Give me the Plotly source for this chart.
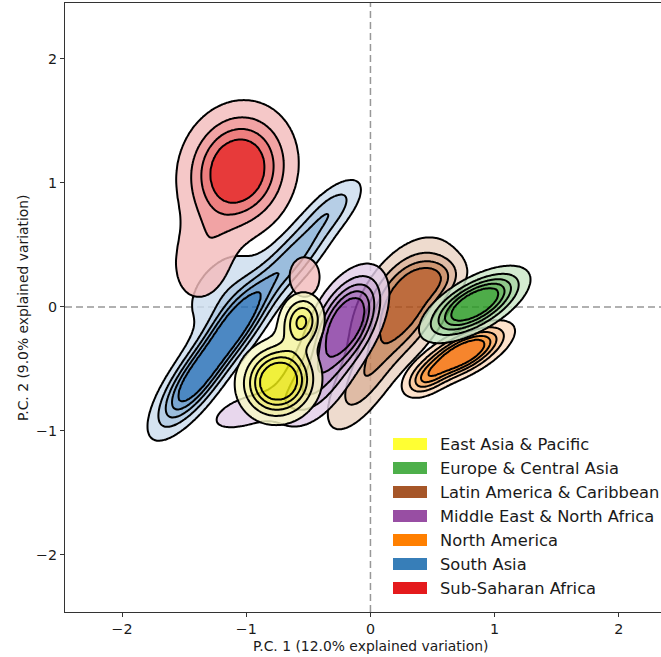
import numpy as np
import plotly.graph_objects as go

# ---------------- data ----------------
REGIONS = ["East Asia & Pacific", "Europe & Central Asia", "Latin America & Caribbean",
           "Middle East & North Africa", "North America", "South Asia", "Sub-Saharan Africa"]
LEGEND_COLORS = ["#ffff33", "#4daf4a", "#a65628", "#984ea3", "#ff7f00", "#377eb8", "#e41a1c"]

X_TITLE = "P.C. 1 (12.0% explained variation)"
Y_TITLE = "P.C. 2 (9.0% explained variation)"
TICKS = [-2, -1, 0, 1, 2]

# density components: (cx, cy, s_major, s_minor, angle_deg, amplitude)
SSA_COMPONENTS = [(-1.07, 1.10, 0.28, 0.235, 72, 1.0), (-1.35, 0.38, 0.25, 0.17, 78, 0.25),
                  (-0.53, 0.24, 0.145, 0.11, 90, 0.22)]
SAS_COMPONENTS = [(-1.42, -0.60, 0.28, 0.10, 54, 1.0), (-1.08, -0.14, 0.28, 0.10, 54, 1.0),
                  (-0.62, 0.40, 0.30, 0.10, 50, 0.55), (-0.30, 0.80, 0.20, 0.09, 45, 0.30),
                  (-1.20, 0.15, 0.28, 0.16, 50, 0.22)]
NAM_COMPONENTS = [(0.74, -0.38, 0.22, 0.085, 28, 1.0), (0.45, -0.58, 0.12, 0.07, 35, 0.35)]
MNA_COMPONENTS = [(-0.19, -0.12, 0.24, 0.13, 62, 1.0), (-0.45, -0.60, 0.25, 0.14, 55, 0.40),
                  (-1.00, -0.84, 0.24, 0.10, 20, 0.18)]
LAC_COMPONENTS = [(0.27, 0.02, 0.30, 0.17, 58, 1.0), (0.50, 0.22, 0.16, 0.10, 20, 0.40),
                  (-0.05, -0.58, 0.30, 0.12, 58, 0.45)]
ECA_COMPONENTS = [(0.84, 0.02, 0.235, 0.10, 30, 1.0)]
EAP_COMPONENTS = [(-0.74, -0.60, 0.17, 0.16, 45, 1.0), (-0.555, -0.12, 0.13, 0.10, 80, 0.55)]

# contour levels as fractions of each region's peak density
SSA_LEVELS = [0.12, 0.30, 0.48, 0.66]
SAS_LEVELS = [0.10, 0.24, 0.38, 0.52, 0.66]
NAM_LEVELS = [0.10, 0.24, 0.38, 0.52, 0.66]
MNA_LEVELS = [0.10, 0.24, 0.38, 0.52, 0.66]
LAC_LEVELS = [0.12, 0.30, 0.48, 0.66]
ECA_LEVELS = [0.10, 0.24, 0.38, 0.52, 0.66]
EAP_LEVELS = [0.10, 0.24, 0.38, 0.52, 0.66]

# band colours as seen over white (light -> dark)
SSA_BANDS = ['#f6c9c9', '#f2a4a5', '#ee7f80', '#e73a3b']
SAS_BANDS = ['#d6e4f1', '#b7cfe6', '#9cbddd', '#79a6d2', '#4c88c4']
NAM_BANDS = ['#fde2cc', '#fccda3', '#fbb677', '#fa9e4a', '#f7861f']
MNA_BANDS = ['#e8d8ee', '#d7bde2', '#c39fd3', '#b07fc2', '#9d5db3']
LAC_BANDS = ['#efdccf', '#e0bca6', '#cf9673', '#bd6c3e']
ECA_BANDS = ['#d4ebd2', '#b2dbae', '#90ca8b', '#70bb6a', '#4fad4a']
EAP_BANDS = ['#fafad2', '#f7f7b0', '#f5f58a', '#f3f367', '#f0f03c']

# drawing order: bottom to top
DRAW = [(SAS_COMPONENTS, SAS_LEVELS, SAS_BANDS),
        (SSA_COMPONENTS, SSA_LEVELS, SSA_BANDS),
        (LAC_COMPONENTS, LAC_LEVELS, LAC_BANDS),
        (NAM_COMPONENTS, NAM_LEVELS, NAM_BANDS),
        (ECA_COMPONENTS, ECA_LEVELS, ECA_BANDS),
        (MNA_COMPONENTS, MNA_LEVELS, MNA_BANDS),
        (EAP_COMPONENTS, EAP_LEVELS, EAP_BANDS)]

X_RANGE = [-2.46, 2.34]
Y_RANGE = [-2.46, 2.45]
ALPHA = 0.82

# ---------------- helpers ----------------
xs = np.linspace(X_RANGE[0], X_RANGE[1], 361)
ys = np.linspace(Y_RANGE[0], Y_RANGE[1], 361)
XX, YY = np.meshgrid(xs, ys)


def density(comps):
    z = np.zeros_like(XX)
    for cx, cy, sa, sb, ang, amp in comps:
        t = np.radians(ang)
        dx, dy = XX - cx, YY - cy
        u = dx * np.cos(t) + dy * np.sin(t)
        v = -dx * np.sin(t) + dy * np.cos(t)
        z += amp * np.exp(-0.5 * ((u / sa) ** 2 + (v / sb) ** 2))
    return z / z.max()


def premult(h, a):
    # colour that gives h when drawn over white at opacity a
    r, g, b = int(h[1:3], 16), int(h[3:5], 16), int(h[5:7], 16)
    f = lambda c: int(np.clip(round((c - (1 - a) * 255) / a), 0, 255))
    return f"rgb({f(r)},{f(g)},{f(b)})"


def colorscale(bands):
    n = len(bands)
    cols = [premult(b, ALPHA) for b in bands]
    T = "rgba(255,255,255,0)"
    cs = [[0, T], [1 / n, T]]
    for k in range(n - 1):
        cs.append([(k + 1) / n, cols[k]])
        if k < n - 2:
            cs.append([(k + 2) / n, cols[k]])
    cs.append([(n - 0.25) / n, cols[n - 2]])
    cs.append([(n - 0.25) / n, cols[n - 1]])
    cs.append([1, cols[n - 1]])
    return cs


fig = go.Figure()
for comps, levels, bands in DRAW:
    z = density(comps)
    n = len(levels)
    zt = np.interp(z, [0.0] + list(levels) + [1.0 + 1e-9], list(range(0, n + 1)) + [n + 1])
    # filled bands (group opacity, like a filled contour with alpha)
    fig.add_trace(go.Contour(
        x=xs, y=ys, z=zt, autocontour=False, opacity=ALPHA,
        contours=dict(start=1, end=n, size=1, coloring="fill", showlines=False),
        line=dict(width=0, smoothing=1),
        colorscale=colorscale(bands), showscale=False, hoverinfo="skip", showlegend=False))
    # black contour lines
    fig.add_trace(go.Contour(
        x=xs, y=ys, z=zt, autocontour=False,
        contours=dict(start=1, end=n, size=1, coloring="none", showlines=True),
        line=dict(color="black", width=2, smoothing=1),
        showscale=False, hoverinfo="skip", showlegend=False))

# ---------------- layout ----------------
W, H = 661, 657
ML, MR, MT, MB = 65, 0, 3, 45
PW, PH = W - ML - MR, H - MT - MB
FONT = "DejaVu Sans"
TXT = "#1a1a1a"


def px_to_paper(px, py):
    return (px - ML) / PW, (H - MB - py) / PH


shapes = [
    dict(type="line", xref="x", yref="paper", x0=0, x1=0, y0=0, y1=1, layer="below",
         line=dict(color="#989898", width=1.5, dash="7px,4px")),
    dict(type="line", xref="paper", yref="y", x0=0, x1=1, y0=0, y1=0, layer="below",
         line=dict(color="#989898", width=1.5, dash="7px,4px")),
]
annotations = []
for i, (name, col) in enumerate(zip(REGIONS, LEGEND_COLORS)):
    cy = 444 + 24 * i
    x0, y0 = px_to_paper(393, cy + 6)
    x1, y1 = px_to_paper(427, cy - 6)
    shapes.append(dict(type="rect", xref="paper", yref="paper", x0=x0, x1=x1, y0=y0, y1=y1,
                       line=dict(width=0), fillcolor=col, layer="above"))
    tx, ty = px_to_paper(438, cy)
    annotations.append(dict(xref="paper", yref="paper", x=tx, y=ty, text=name, showarrow=False,
                            xanchor="left", yanchor="middle",
                            font=dict(size=16.3, color=TXT, family=FONT)))

# axis titles (the original axes extend past the right edge of the picture)
tx, ty = px_to_paper(370, 646)
annotations.append(dict(xref="paper", yref="paper", x=tx, y=ty, text=X_TITLE, showarrow=False,
                        xanchor="center", yanchor="middle", font=dict(size=13.9, color=TXT, family=FONT)))
tx, ty = px_to_paper(23, 308)
annotations.append(dict(xref="paper", yref="paper", x=tx, y=ty, text=Y_TITLE, showarrow=False,
                        textangle=-90, xanchor="center", yanchor="middle",
                        font=dict(size=13.9, color=TXT, family=FONT)))

axis_common = dict(tickvals=TICKS, ticks="outside", ticklen=4, tickwidth=1.2, tickcolor="#333",
                   showgrid=False, zeroline=False, showline=True, linecolor="#333", linewidth=1.3,
                   tickfont=dict(size=14.3, color=TXT, family=FONT))

fig.update_layout(
    width=W, height=H, margin=dict(l=ML, r=MR, t=MT, b=MB),
    plot_bgcolor="white", paper_bgcolor="white",
    xaxis=dict(range=X_RANGE, mirror=True, **axis_common),
    yaxis=dict(range=Y_RANGE, mirror=False, **axis_common),
    shapes=shapes, annotations=annotations, showlegend=False,
)

fig.write_html("out.html")
